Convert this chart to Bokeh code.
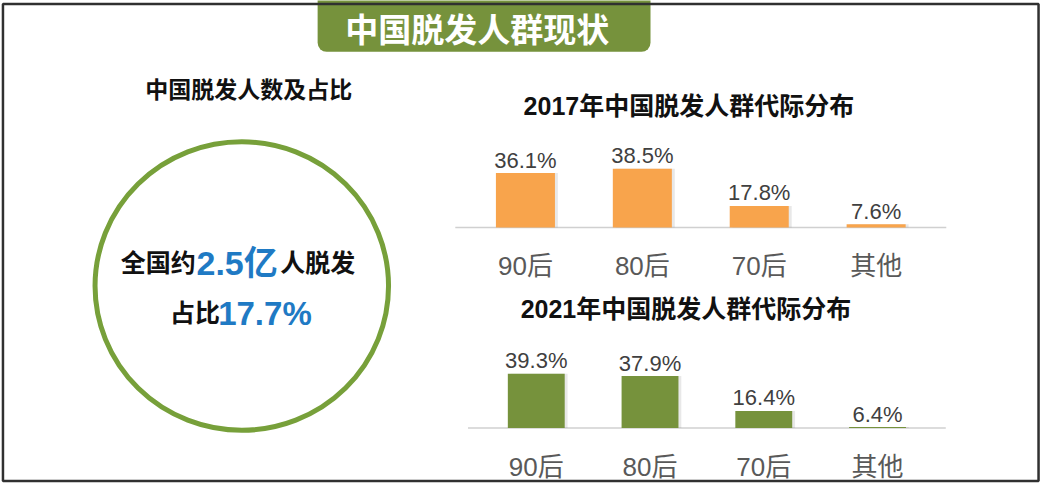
from bokeh.plotting import figure
from bokeh.models import Range1d, ColumnDataSource
from bokeh.core.properties import value
from bokeh.transform import dodge
from bokeh.embed import file_html
from bokeh.resources import INLINE

# ---------------- data ----------------
categories = ["90后", "80后", "70后", "其他"]
share_2017 = [36.1, 38.5, 17.8, 7.6]
share_2021 = [39.3, 37.9, 16.4, 6.4]
bald_total = "2.5亿"
bald_ratio = "17.7%"

main_title = "中国脱发人群现状"
left_title = "中国脱发人数及占比"
title_2017 = "2017年中国脱发人群代际分布"
title_2021 = "2021年中国脱发人群代际分布"

# ---------------- styling ----------------
W, H = 1057, 500
CJK = "Noto Sans CJK SC"
LAT = "Liberation Sans"
MIX = "Liberation Sans, Noto Sans CJK SC"
GREEN_DARK = "#76923c"
GREEN_RING = "#77a03a"
ORANGE = "#f8a44c"
BLUE = "#1f7ac4"

p = figure(width=1041, height=484, x_range=Range1d(0, W), y_range=Range1d(H, 0),
           output_backend="svg", toolbar_location=None, min_border=0)
p.axis.visible = False
p.grid.visible = False
p.outline_line_color = None
p.background_fill_color = "white"
p.border_fill_color = "white"

# banner
p.quad(left=[322], right=[660], top=[-12], bottom=[53], fill_color=GREEN_DARK,
       line_color=None, border_radius=9)
p.text(x=[484], y=[28], text=[main_title], text_color="white", text_font=value(CJK),
       text_font_style="bold", text_font_size="33px", text_align="center",
       text_baseline="middle")

# frame
p.quad(left=[2.5], right=[1054], top=[3.5], bottom=[496.5], fill_color=None,
       line_color="#303030", line_width=2.5)

# left panel
p.text(x=[252], y=[90], text=[left_title], text_color="#111111", text_font=value(CJK),
       text_font_style="bold", text_font_size="23px", text_align="center",
       text_baseline="middle")
p.ellipse(x=[245], y=[295], width=[298], height=[298], fill_color=None,
          line_color=GREEN_RING, line_width=5)

line1 = [("全国约", 122, "#111111", "25px"),
         (bald_total, 199, BLUE, "34px"),
         ("人脱发", 284, "#111111", "25px")]
for txt, x, col, fs in line1:
    p.text(x=[x], y=[271], text=[txt], text_color=col, text_font=value(MIX),
           text_font_style="bold", text_font_size=fs, text_align="left",
           text_baseline="middle")
line2 = [("占比", 172, "#111111", "25px"),
         (bald_ratio, 221, BLUE, "33px")]
for txt, x, col, fs in line2:
    p.text(x=[x], y=[323], text=[txt], text_color=col, text_font=value(MIX),
           text_font_style="bold", text_font_size=fs, text_align="left",
           text_baseline="middle")

# bar chart titles
p.text(x=[699], y=[109], text=[title_2017], text_color="#111111", text_font=value(MIX),
       text_font_style="bold", text_font_size="25px", text_align="center",
       text_baseline="middle")
p.text(x=[696], y=[319], text=[title_2021], text_color="#111111", text_font=value(MIX),
       text_font_style="bold", text_font_size="25px", text_align="center",
       text_baseline="middle")


def add_chart(name, values, x0, dx, yb, k, v0, color, bw):
    # map category index -> reference pixel x0 + i*dx ; value v -> yb - k*(v-v0)
    p.extra_x_ranges[name] = Range1d((0 - x0) / dx, (W - x0) / dx)
    p.extra_y_ranges[name] = Range1d(v0 - (H - yb) / k, v0 + yb / k)
    src = ColumnDataSource(dict(
        x=list(range(len(categories))), top=values, base=[v0] * len(values),
        label=[f"{v}%" for v in values], cat=categories))
    p.segment(x0=[-0.6], y0=[v0], x1=[len(categories) - 0.4], y1=[v0],
              line_color="#d0d0d0", line_width=1.5,
              x_range_name=name, y_range_name=name)
    # soft shadow slightly to the right
    p.vbar(x=dodge("x", 0.025, range=p.extra_x_ranges[name]), top="top", bottom="base",
           width=bw, source=src, fill_color="#7f7f7f", fill_alpha=0.18, line_color=None,
           x_range_name=name, y_range_name=name)
    p.vbar(x="x", top="top", bottom="base", width=bw, source=src,
           fill_color=color, line_color=None, x_range_name=name, y_range_name=name)
    p.text(x="x", y="top", text="label", source=src, text_color="#404040",
           text_font=value(LAT), text_font_size="22px", text_align="center",
           text_baseline="alphabetic", y_offset=-13,
           x_range_name=name, y_range_name=name)
    p.text(x="x", y="base", text="cat", source=src, text_color="#595959",
           text_font=value(MIX), text_font_size="26px", text_align="center",
           text_baseline="middle", y_offset=39,
           x_range_name=name, y_range_name=name)


add_chart("c2017", share_2017, 533, 118.7, 234.5, 1.855, 5.8, ORANGE, 0.505)
add_chart("c2021", share_2021, 544, 115.5, 441.7, 1.672, 5.8, GREEN_DARK, 0.5)

open("out.html", "w").write(file_html(p, INLINE))
